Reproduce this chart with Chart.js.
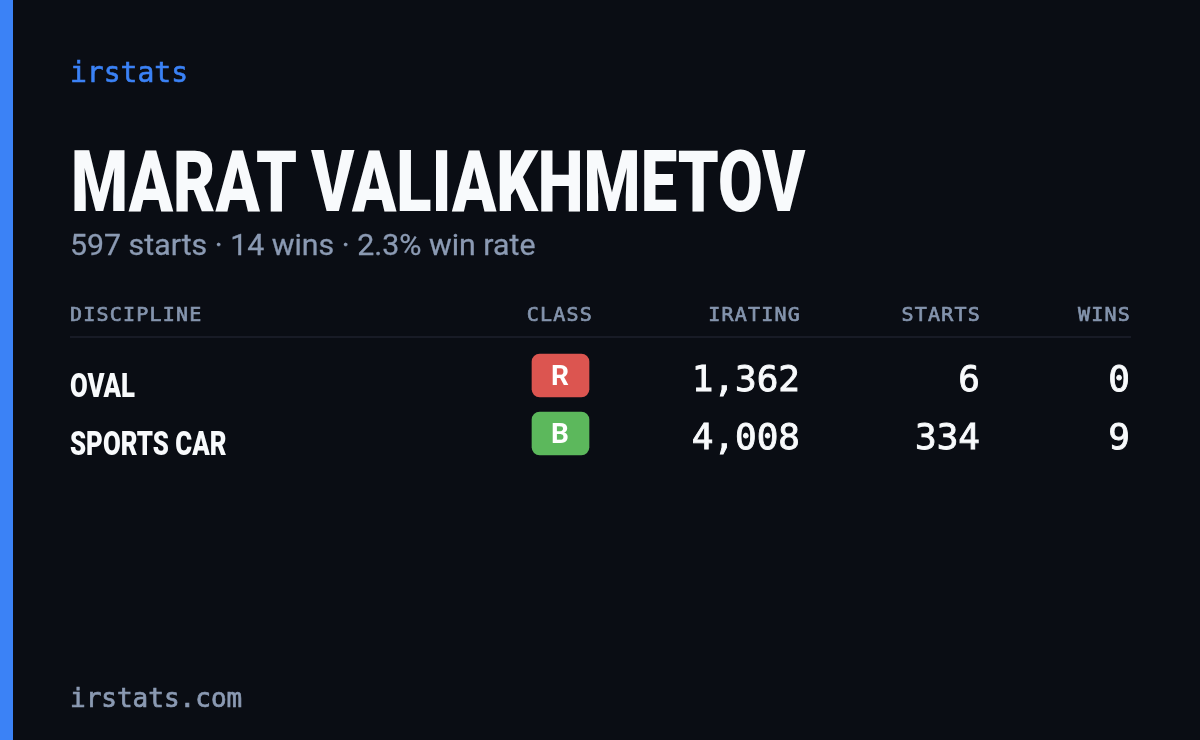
<!DOCTYPE html>
<html>
<head>
<meta charset="utf-8">
<title>irstats</title>
<script src="https://cdn.jsdelivr.net/npm/chart.js@4"></script>
<style>
  html, body { margin: 0; padding: 0; background: #0a0d14; }
  body { width: 1200px; height: 740px; position: relative; overflow: hidden; }
  #accent { position: absolute; left: 0; top: 0; width: 13px; height: 740px; background: #3b82f6; }
  #card { position: absolute; left: 0; top: 0; }
  .txt { position: absolute; white-space: nowrap; line-height: 1; }
  #brand { left: 70px; top: 59px; font: 28px/1 "DejaVu Sans Mono", monospace; color: #3b82f6; -webkit-text-stroke: 0.6px #3b82f6; }
  #name { left: 71px; top: 139px; font: 900 86px/1 Roboto, sans-serif; color: #f8fafc; transform-origin: 0 0; transform: scaleX(0.757); }
  #summary { left: 70px; top: 230px; font: 30px/1 Roboto, sans-serif; color: #8b9ab3; -webkit-text-stroke: 0.3px #8b9ab3; transform-origin: 0 0; transform: scaleX(1.01); }
  #footer { left: 70px; top: 685px; font: 26px/1 "DejaVu Sans Mono", monospace; color: #8b9ab3; -webkit-text-stroke: 0.7px #8b9ab3; }
</style>
</head>
<body>
<div id="accent"></div>
<canvas id="card" width="1200" height="740"></canvas>
<div class="txt" id="brand">irstats</div>
<div class="txt" id="name">MARAT VALIAKHMETOV</div>
<div class="txt" id="summary">597 starts · 14 wins · 2.3% win rate</div>
<div class="txt" id="footer">irstats.com</div>
<script>
const headers = ['DISCIPLINE', 'CLASS', 'IRATING', 'STARTS', 'WINS'];
const disciplines = ['OVAL', 'SPORTS CAR'];
const classes = ['R', 'B'];
const iratings = ['1,362', '4,008'];
const starts = ['6', '334'];
const wins = ['0', '9'];

const classColors = ['#dc5550', '#5cb85c'];
const mono = '"DejaVu Sans Mono", monospace';

const tablePlugin = {
  id: 'tableText',
  afterDatasetsDraw(chart) {
    const { ctx, scales: { x, y } } = chart;
    const text = (str, px, py, font, color, align, squeeze, stroke, spacing) => {
      ctx.save();
      ctx.font = font;
      ctx.fillStyle = color;
      ctx.textAlign = align;
      ctx.textBaseline = 'alphabetic';
      if (spacing) ctx.letterSpacing = spacing;
      ctx.translate(px, py);
      if (squeeze) ctx.scale(squeeze, 1);
      ctx.fillText(str, 0, 0);
      if (stroke) {
        // no medium weight of the mono font installed, thicken it a bit
        ctx.strokeStyle = color;
        ctx.lineWidth = stroke;
        ctx.strokeText(str, 0, 0);
      }
      ctx.restore();
    };

    // header row + rule
    const headX = [70, 593, 801, 981, 1131];
    headers.forEach((h, i) => {
      text(h, x.getPixelForValue(headX[i]), 321, '20px ' + mono, '#8494ad', i === 0 ? 'left' : 'right', 0, 0.7, '1.2px');
    });
    ctx.fillStyle = '#181b26';
    ctx.fillRect(x.getPixelForValue(70), 336, x.getPixelForValue(1131) - x.getPixelForValue(70), 2);

    disciplines.forEach((d, i) => {
      const cy = y.getPixelForValue(i);
      text(d, x.getPixelForValue(70), cy + 21, '900 34px Roboto, sans-serif', '#f8fafc', 'left', 0.757);
      text(classes[i], x.getPixelForValue(560), cy + 9, '700 28px Roboto, sans-serif', '#ffffff', 'center');
      text(iratings[i], x.getPixelForValue(800), cy + 15, '36px ' + mono, '#f8fafc', 'right', 0, 0.9);
      text(starts[i], x.getPixelForValue(980), cy + 15, '36px ' + mono, '#f8fafc', 'right', 0, 0.9);
      text(wins[i], x.getPixelForValue(1130), cy + 15, '36px ' + mono, '#f8fafc', 'right', 0, 0.9);
    });
  }
};

new Chart(document.getElementById('card'), {
  type: 'bar',
  data: {
    labels: disciplines,
    datasets: [{
      data: classes.map(() => [532, 589]),
      backgroundColor: classColors,
      borderRadius: 8,
      borderSkipped: false,
      barThickness: 43
    }]
  },
  options: {
    indexAxis: 'y',
    responsive: false,
    animation: false,
    devicePixelRatio: 1,
    layout: { padding: { top: 346.5, bottom: 277.5, left: 0, right: 0 } },
    plugins: { legend: { display: false }, tooltip: { enabled: false } },
    scales: {
      x: { type: 'linear', min: 0, max: 1200, display: false },
      y: { type: 'category', display: false }
    }
  },
  plugins: [tablePlugin]
});
</script>
</body>
</html>
